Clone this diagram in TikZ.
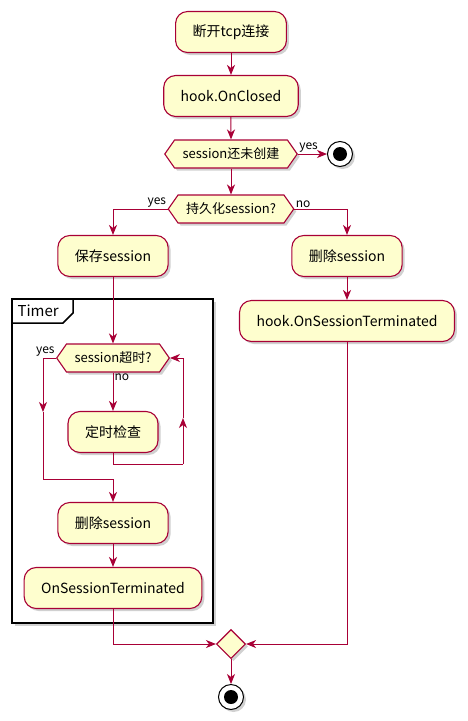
\documentclass[tikz,border=0pt]{standalone}
\usepackage{fontspec}
\setmainfont{Noto Sans CJK SC}
\usetikzlibrary{arrows.meta,shapes.geometric,shapes.symbols,shadows}

\definecolor{umlred}{HTML}{A80036}
\definecolor{umlfill}{HTML}{FEFECE}

\tikzset{
  umlshadow/.style={drop shadow={shadow xshift=2.5pt, shadow yshift=-2.5pt, fill=black!30, opacity=0.6}},
  actbox/.style={draw=umlred, fill=umlfill, line width=1.1pt, rounded corners=12pt,
    minimum height=41pt, inner xsep=17pt, font=\fontsize{14}{16}\selectfont, umlshadow},
  ifbox/.style={signal, signal to=west and east, signal pointer angle=110, draw=umlred,
    fill=umlfill, line width=1.1pt, minimum height=28pt, inner xsep=8pt, inner ysep=2pt,
    font=\fontsize{13}{15}\selectfont, umlshadow},
  mergebox/.style={diamond, draw=umlred, fill=umlfill, line width=1.1pt, minimum size=29pt,
    inner sep=0pt, umlshadow},
  stopdot/.style={circle, draw=black, fill=white, line width=1pt, minimum size=25pt,
    path picture={\fill[black] (path picture bounding box.center) circle (7pt);}, umlshadow},
  flow/.style={draw=umlred, line width=1pt, -{Stealth[length=10pt,width=8pt,inset=3pt]}},
  flowline/.style={draw=umlred, line width=1pt},
  edgetext/.style={font=\fontsize{12}{14}\selectfont, inner sep=1pt},
}

\begin{document}
\begin{tikzpicture}[x=1pt, y=-1pt]
    \useasboundingbox (0,0) rectangle (468,721);

    % Timer frame
    \draw[black, line width=1.5pt, fill=white, umlshadow] (12,299) rectangle (213,623);
    \draw[black, line width=1.5pt] (12,323) -- (63,323) -- (73,313) -- (73,299);
    \node[font=\fontsize{15}{17}\selectfont, anchor=west] (timer) at (14,311) {Timer};

    % main flow
    \node[actbox] (tcpclose) at (231,32) {断开tcp连接};
    \node[actbox] (onclosed) at (231,96) {hook.OnClosed};
    \node[ifbox] (ifnew) at (231,154) {session还未创建};
    \node[stopdot] (stopa) at (340,154) {};
    \node[ifbox] (ifkeep) at (231,209) {持久化session?};

    % right branch
    \node[actbox] (delright) at (347,256) {删除session};
    \node[actbox] (termright) at (347,321) {hook.OnSessionTerminated};

    % left branch
    \node[actbox] (save) at (113,256) {保存session};
    \node[ifbox] (iftimeout) at (113,358) {session超时?};
    \node[actbox] (check) at (113,432) {定时检查};
    \node[actbox] (delleft) at (113,523) {删除session};
    \node[actbox] (termleft) at (113,588) {OnSessionTerminated};

    \node[mergebox] (merge) at (231,644) {};
    \node[stopdot] (stopb) at (231,697) {};

    \coordinate (yesdown) at (43,412);
    \coordinate (yesbottom) at (43,479);
    \coordinate (loopbottom) at (183,464);
    \coordinate (loopup) at (183,418);

    \draw[flow] (tcpclose) -- (onclosed);
    \draw[flow] (onclosed) -- (ifnew);
    \draw[flow] (ifnew.east) -- (stopa) node[edgetext, pos=0, above right] {yes};
    \draw[flow] (ifnew.south) -- (ifkeep.north);

    \draw[flow] (ifkeep.west) node[edgetext, above left] {yes} -| (save.north);
    \draw[flow] (ifkeep.east) node[edgetext, above right] {no} -| (delright.north);
    \draw[flow] (delright) -- (termright);

    \draw[flow] (save) -- (iftimeout.north);
    \draw[flow] (iftimeout.south) node[edgetext, below right] {no} -- (check);
    \draw[flow] (iftimeout.west) node[edgetext, above left] {yes} -| (yesdown);
    \draw[flowline] (yesdown) -- (yesbottom);
    \draw[flow] (yesbottom) -| (delleft.north);
    \draw[flowline] (check.south) |- (loopbottom);
    \draw[flow] (loopbottom) -- (loopup);
    \draw[flow] (loopup) |- (iftimeout.east);
    \draw[flow] (delleft) -- (termleft);

    \draw[flow] (termleft.south) |- (merge.west);
    \draw[flow] (termright.south) |- (merge.east);
    \draw[flow] (merge) -- (stopb);
\end{tikzpicture}
\end{document}
